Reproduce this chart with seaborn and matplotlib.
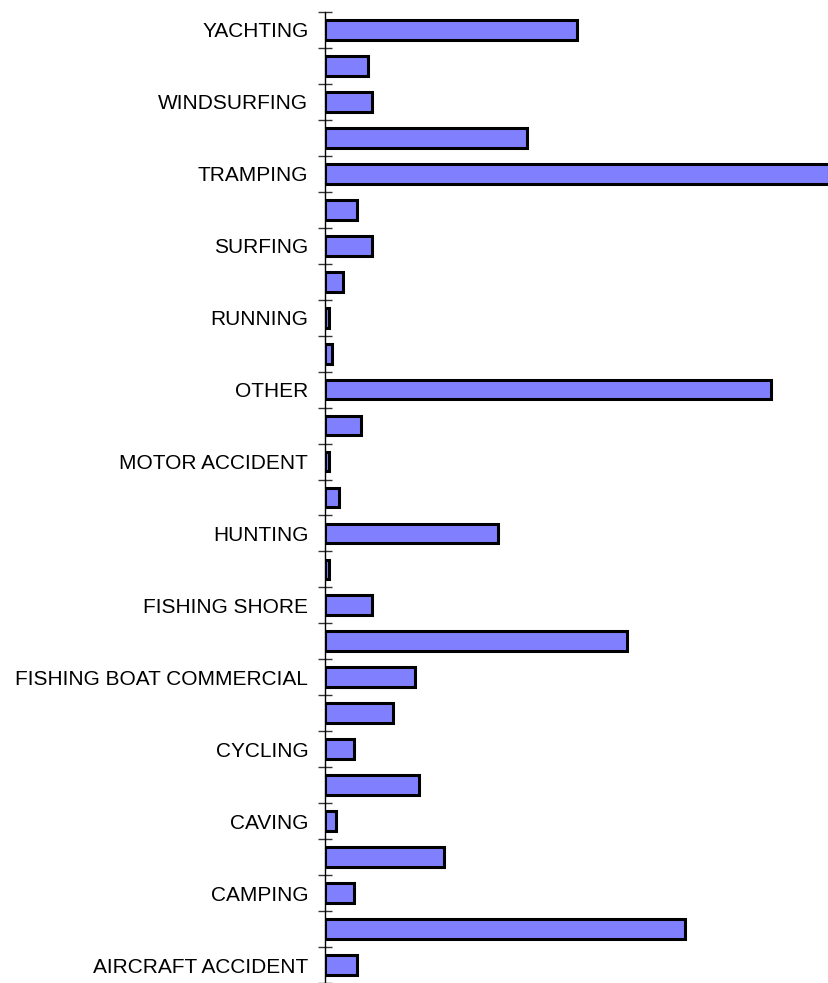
import matplotlib as mpl
mpl.use("Agg")
import matplotlib.pyplot as plt
import numpy as np
import pandas as pd
import seaborn as sns

# categories top to bottom (only every other one is labelled on the chart)
activities = [
    "YACHTING", "WORK", "WINDSURFING", "WALKING", "TRAMPING", "SWIMMING",
    "SURFING", "SKIING", "RUNNING", "RAFTING", "OTHER", "MOUNTAINEERING",
    "MOTOR ACCIDENT", "KAYAKING", "HUNTING", "GLIDING", "FISHING SHORE",
    "FISHING BOAT RECREATIONAL", "FISHING BOAT COMMERCIAL", "DIVING",
    "CYCLING", "CLIMBING", "CAVING", "CANYONING", "CAMPING", "AVALANCHE",
    "AIRCRAFT ACCIDENT",
]
counts = [70, 12, 13, 56, 140, 9, 13, 5, 1, 2, 124, 10, 1, 4, 48, 1, 13,
          84, 25, 19, 8, 26, 3, 33, 8, 100, 9]
shown = activities[::2]

df = pd.DataFrame({"activity": activities, "count": counts})

sns.set_style("white")
plt.rcParams["font.family"] = ["Liberation Sans", "DejaVu Sans"]

fig = plt.figure(figsize=(8.29, 9.83), dpi=100)
ax = fig.add_axes([0.392, 0.0, 0.608, 0.9878])

sns.barplot(df, y="activity", x="count", orient="h", color="#8080FF",
            saturation=1, width=0.55, edgecolor="black", linewidth=2.2, ax=ax)

ax.set_xlim(0, max(counts))
ax.set_ylim(len(activities) - 0.5, -0.5)
ax.set_xlabel("")
ax.set_ylabel("")
ax.set_xticks([])

ax.set_yticks(range(len(activities)))
ax.set_yticklabels([a if a in shown else "" for a in activities],
                   fontsize=15, color="black")
ax.tick_params(axis="y", which="major", left=False, length=0, pad=12)
ax.set_yticks(np.arange(-0.5, len(activities), 1), minor=True)
ax.tick_params(axis="y", which="minor", left=True, direction="inout",
               length=10, width=1, color="#333333")

for side in ["top", "right", "bottom"]:
    ax.spines[side].set_visible(False)
ax.spines["left"].set_color("black")
ax.spines["left"].set_linewidth(1)

fig.savefig("out.png", dpi=100)
